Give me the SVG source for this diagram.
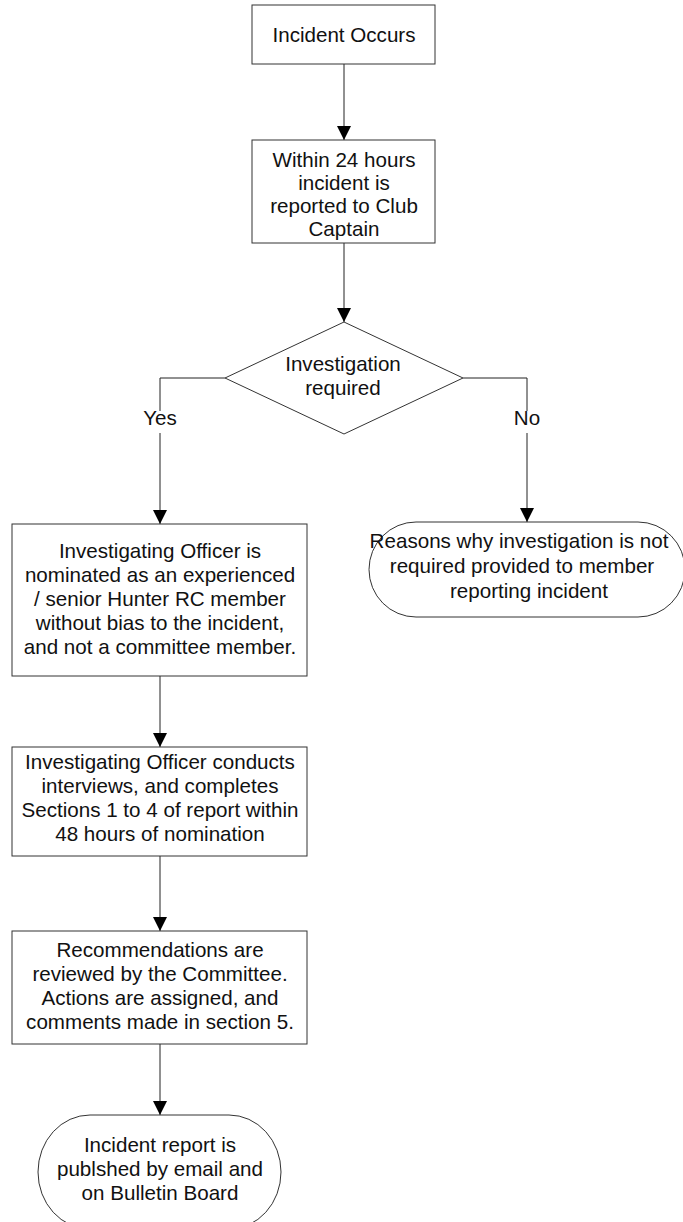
<svg xmlns="http://www.w3.org/2000/svg" width="683" height="1222" viewBox="0 0 683 1222">
<style>
.s{fill:#fff;stroke:#333;stroke-width:1}
.c{fill:none;stroke:#222;stroke-width:1}
text{font-family:"Liberation Sans",Arial,sans-serif;font-size:20.6px;fill:#111;text-anchor:middle}
</style>
<defs>
<marker id="ar" viewBox="0 0 14 14" refX="14" refY="7" markerWidth="14" markerHeight="14" markerUnits="userSpaceOnUse" orient="auto">
<path d="M0,0 L14,7 L0,14 Z" fill="#000"/>
</marker>
</defs>
<rect width="683" height="1222" fill="#fff"/>
<g id="connectors">
<path class="c" d="M344,64 V140" marker-end="url(#ar)"/>
<path class="c" d="M344,243 V322" marker-end="url(#ar)"/>
<path class="c" d="M225,378 H160 V411"/>
<path class="c" d="M160,433 V524" marker-end="url(#ar)"/>
<path class="c" d="M463,378 H527 V411"/>
<path class="c" d="M527,433 V522" marker-end="url(#ar)"/>
<path class="c" d="M160,676 V747" marker-end="url(#ar)"/>
<path class="c" d="M160,856 V931" marker-end="url(#ar)"/>
<path class="c" d="M160,1044 V1115" marker-end="url(#ar)"/>
<text x="160" y="425">Yes</text>
<text x="527" y="425">No</text>
</g>
<g id="n1">
<rect class="s" x="252" y="5" width="183" height="59"/>
<text x="344" y="42">Incident Occurs</text>
</g>
<g id="n2">
<rect class="s" x="252" y="140" width="183" height="103"/>
<text x="344" y="167">Within 24 hours</text>
<text x="344" y="190">incident is</text>
<text x="344" y="213">reported to Club</text>
<text x="344" y="236">Captain</text>
</g>
<g id="n3">
<path class="s" d="M344,322 L463,378 L344,434 L225,378 Z"/>
<text x="343" y="371">Investigation</text>
<text x="343" y="395">required</text>
</g>
<g id="n4">
<rect class="s" x="12" y="524" width="295" height="152"/>
<text x="160" y="558">Investigating Officer is</text>
<text x="160" y="582">nominated as an experienced</text>
<text x="160" y="606">/ senior Hunter RC member</text>
<text x="160" y="630">without bias to the incident,</text>
<text x="160" y="654">and not a committee member.</text>
</g>
<g id="n5">
<rect class="s" x="369" y="522" width="316" height="95" rx="47" ry="47.5"/>
<text x="519" y="548">Reasons why investigation is not</text>
<text x="522" y="573">required provided to member</text>
<text x="529" y="598">reporting incident</text>
</g>
<g id="n6">
<rect class="s" x="12" y="747" width="295" height="109"/>
<text x="160" y="769">Investigating Officer conducts</text>
<text x="160" y="793">interviews, and completes</text>
<text x="160" y="817">Sections 1 to 4 of report within</text>
<text x="160" y="841">48 hours of nomination</text>
</g>
<g id="n7">
<rect class="s" x="12" y="931" width="295" height="113"/>
<text x="160" y="957">Recommendations are</text>
<text x="160" y="981">reviewed by the Committee.</text>
<text x="160" y="1005">Actions are assigned, and</text>
<text x="160" y="1029">comments made in section 5.</text>
</g>
<g id="n8">
<rect class="s" x="38" y="1115" width="243" height="114" rx="52" ry="57"/>
<text x="160" y="1152">Incident report is</text>
<text x="160" y="1176">publshed by email and</text>
<text x="160" y="1200">on Bulletin Board</text>
</g>
</svg>
